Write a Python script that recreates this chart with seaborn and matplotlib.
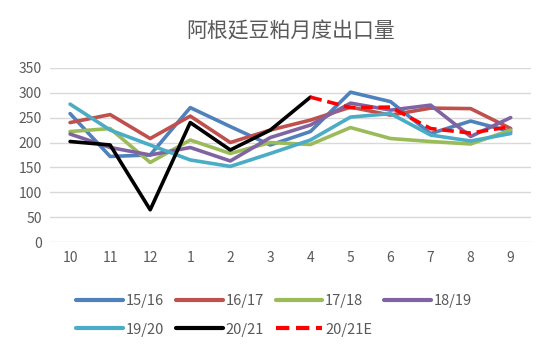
import numpy as np
import pandas as pd
import matplotlib
matplotlib.use("Agg")
import matplotlib.pyplot as plt
import seaborn as sns

# 月份（10月 -> 次年9月）
months = ["10", "11", "12", "1", "2", "3", "4", "5", "6", "7", "8", "9"]

s1516 = [258, 172, 175, 270, 232, 195, 222, 301, 282, 218, 243, 222]
s1617 = [240, 256, 208, 253, 200, 225, 245, 271, 255, 269, 268, 228]
s1718 = [222, 228, 160, 205, 178, 200, 196, 230, 208, 202, 197, 225]
s1819 = [217, 190, 175, 190, 163, 210, 235, 279, 265, 275, 212, 250]
s1920 = [277, 225, 195, 165, 152, 178, 205, 251, 258, 215, 203, 218]
s2021 = [202, 195, 65, 240, 185, 225, 291]
s2021e = [291, 270, 271, 228, 219, 232]

series_names = ["15/16", "16/17", "17/18", "18/19", "19/20", "20/21", "20/21E"]
colors = ["#4F81BD", "#C0504D", "#9BBB59", "#8064A2", "#4BACC6", "#000000", "#FF0000"]

rows = []
for name, vals, start in [("15/16", s1516, 0), ("16/17", s1617, 0), ("17/18", s1718, 0),
                          ("18/19", s1819, 0), ("19/20", s1920, 0), ("20/21", s2021, 0),
                          ("20/21E", s2021e, 6)]:
    for i, v in enumerate(vals):
        rows.append({"pos": start + i, "系列": name, "出口量": v})
df = pd.DataFrame(rows)

sns.set_theme(style="white")
plt.rcParams["font.family"] = ["Noto Sans CJK SC", "DejaVu Sans"]

fig = plt.figure(figsize=(5.5, 3.51), dpi=100)
ax = fig.add_axes([0.091, 0.31, 0.874, 0.497])

sns.lineplot(data=df, x="pos", y="出口量", hue="系列", style="系列",
             hue_order=series_names, style_order=series_names,
             palette=dict(zip(series_names, colors)),
             dashes={n: ((3.2, 1.6) if n == "20/21E" else "") for n in series_names},
             linewidth=2.6, ax=ax, legend=True)

ax.set_xlim(-0.5, 11.5)
ax.set_ylim(0, 350)
ax.set_yticks(range(0, 351, 50))
ax.set_xticks(range(len(months)))
ax.set_xticklabels(months)
ax.set_xlabel("")
ax.set_ylabel("")
ax.grid(axis="y", color="#D9D9D9", linewidth=1)
ax.set_axisbelow(True)
for sp in ax.spines.values():
    sp.set_visible(False)
ax.tick_params(axis="both", length=0, labelsize=10, colors="#595959", pad=6)

ax.set_title("阿根廷豆粕月度出口量", fontsize=15, color="#595959", pad=22)

# 图例按行排列：4 + 3
handles, labels = ax.get_legend_handles_labels()
ax.get_legend().remove()
order = [0, 4, 1, 5, 2, 6, 3]
leg = fig.legend([handles[i] for i in order], [labels[i] for i in order],
                 loc="upper left", bbox_to_anchor=(0.115, 0.2),
                 ncol=4, frameon=False, fontsize=10.5, handlelength=3.2,
                 handletextpad=0.2, columnspacing=0.8, labelspacing=1.0)
for t in leg.get_texts():
    t.set_color("#595959")
for h in leg.get_lines():
    h.set_linewidth(3)

fig.savefig("out.png", dpi=100)
